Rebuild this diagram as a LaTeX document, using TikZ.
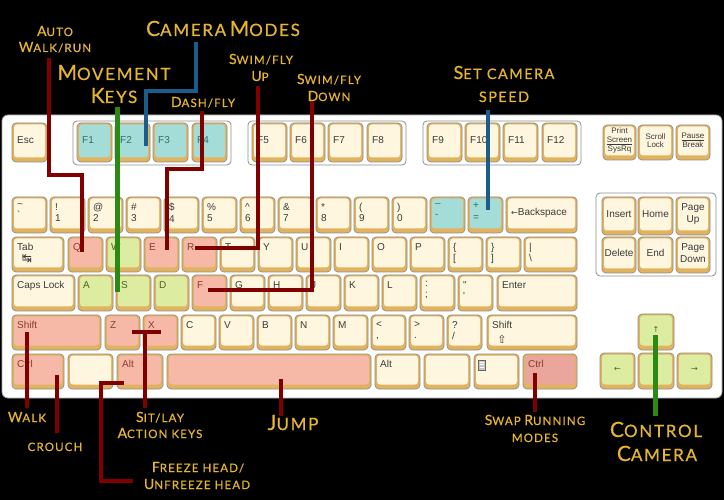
\documentclass[tikz,border=0pt]{standalone}
\usepackage{fontspec}
\setmainfont{Liberation Sans}
\newfontfamily\labfont[LetterSpace=10,FakeBold=0.6]{Lato}
\newfontfamily\symfont{DejaVu Sans}
\definecolor{keycream}{HTML}{FEF6DE}
\definecolor{keyteal}{HTML}{A4DCD8}
\definecolor{keypink}{HTML}{F7B9A7}
\definecolor{keygreen}{HTML}{DCEDA2}
\definecolor{keyctrl}{HTML}{EBA69C}
\definecolor{rim}{HTML}{E2B35E}
\definecolor{keyedge}{HTML}{8E8E8E}
\definecolor{lred}{HTML}{800000}
\definecolor{lgreen}{HTML}{2A8A14}
\definecolor{lblue}{HTML}{1C5C8A}
\definecolor{gold}{HTML}{E6B530}
\definecolor{txtc}{HTML}{3A3A3A}
\definecolor{pinktxt}{HTML}{8C3B30}
\definecolor{tealtxt}{HTML}{2F6E70}
\definecolor{greentxt}{HTML}{4F5F25}
\newcommand\Bg[1]{{\fontsize{\bsz}{\bsz}\selectfont #1}}
\newcommand\Sm[1]{{\fontsize{\ssz}{\ssz}\selectfont #1}}
% key with label at top-left
\newcommand\kk[6][]{%
  \path[keybody] (#4,\ya) rectangle (#5,\yb);
  \path[keyface,fill=#2] ({#4+2},{\ya+1.5}) rectangle ({#5-2},{\yb-4.5});
  \node[keytxt,anchor=north west,#1] (#3) at ({#4+5},{\ya+6}) {#6};
}
% key with label at left, vertically centred
\newcommand\kw[6][]{%
  \path[keybody] (#4,\ya) rectangle (#5,\yb);
  \path[keyface,fill=#2] ({#4+2},{\ya+1.5}) rectangle ({#5-2},{\yb-4.5});
  \node[keytxt,anchor=west,#1] (#3) at ({#4+5},{(\ya+\yb)/2-2}) {#6};
}
% key with centred label
\newcommand\kc[6][]{%
  \path[keybody] (#4,\ya) rectangle (#5,\yb);
  \path[keyface,fill=#2] ({#4+2},{\ya+1.5}) rectangle ({#5-2},{\yb-4.5});
  \node[keytxt,anchor=center,align=center,#1] (#3) at ({(#4+#5)/2},{(\ya+\yb)/2-2}) {#6};
}
\begin{document}
\begin{tikzpicture}[x=1pt,y=-1pt,
  keybody/.style={fill=rim,draw=keyedge,line width=0.7pt,rounded corners=4pt},
  keyface/.style={rounded corners=3pt},
  keytxt/.style={inner sep=0pt,text=txtc,align=left,font=\fontsize{10}{11.5}\selectfont},
  smallkey/.style={font=\fontsize{8}{8.6}\selectfont},
  groupbox/.style={draw=keyedge,fill=white,line width=0.8pt,rounded corners=4pt},
  redline/.style={draw=lred,line width=4pt},
  greenline/.style={draw=lgreen,line width=5pt},
  blueline/.style={draw=lblue,line width=4pt},
  lab/.style={text=gold,inner sep=0pt,anchor=base,font=\labfont},
  smalllab/.style={lab,execute at begin node={\def\bsz{14}\def\ssz{11.5}}},
  midlab/.style={lab,execute at begin node={\def\bsz{18}\def\ssz{14.5}}},
  biglab/.style={lab,execute at begin node={\def\bsz{21}\def\ssz{17}}}]
\useasboundingbox (0,0) rectangle (724,500);
\fill[black] (0,0) rectangle (724,500);
% keyboard body
\draw[fill=white,draw=gray!70,line width=0.8pt,rounded corners=6pt] (2,115) rectangle (722,398);
\draw[groupbox] (73,121) rectangle (231,165);
\draw[groupbox] (248,121) rectangle (406,165);
\draw[groupbox] (423,121) rectangle (581,165);
\draw[groupbox] (596,193) rectangle (716,276);
% function row
\def\ya{123}\def\yb{162}
\kw{keycream}{esc}{12}{47}{Esc}
\kw[text=tealtxt]{keyteal}{f1}{77}{112}{F1}
\kw[text=tealtxt]{keyteal}{f2}{115}{150}{F2}
\kw[text=tealtxt]{keyteal}{f3}{153}{188}{F3}
\kw[text=tealtxt]{keyteal}{f4}{192}{227}{F4}
\kw{keycream}{f5}{252}{287}{F5}
\kw{keycream}{f6}{290}{325}{F6}
\kw{keycream}{f7}{328}{363}{F7}
\kw{keycream}{f8}{367}{402}{F8}
\kw{keycream}{f9}{427}{462}{F9}
\kw{keycream}{f10}{465}{500}{F10}
\kw{keycream}{f11}{503}{538}{F11}
\kw{keycream}{f12}{542}{577}{F12}
\def\ya{125}\def\yb{160}
\kc[smallkey]{keycream}{prt}{603}{636}{Print\\\underline{Screen}\\SysRq}
\kc[smallkey]{keycream}{scr}{638}{673}{Scroll\\Lock}
\kc[smallkey]{keycream}{pau}{676}{710}{\underline{Pause}\\Break}
% number row
\def\ya{197}\def\yb{233}
\kk{keycream}{tilde}{12}{47}{\textasciitilde\\\textasciigrave}
\kk{keycream}{n1}{50}{85}{!\\1}
\kk{keycream}{n2}{88}{123}{@\\2}
\kk{keycream}{n3}{126}{161}{\#\\3}
\kk{keycream}{n4}{164}{199}{\$\\4}
\kk{keycream}{n5}{202}{237}{\%\\5}
\kk{keycream}{n6}{240}{275}{\textasciicircum\\6}
\kk{keycream}{n7}{278}{313}{\&\\7}
\kk{keycream}{n8}{316}{351}{*\\8}
\kk{keycream}{n9}{354}{389}{(\\9}
\kk{keycream}{n0}{392}{427}{)\\0}
\kk[text=tealtxt]{keyteal}{minus}{430}{465}{–\\-}
\kk[text=tealtxt]{keyteal}{plus}{468}{503}{+\\=}
\kw{keycream}{bksp}{506}{577}{{\symfont\fontsize{8}{8}\selectfont ←}Backspace}
% tab row
\def\ya{237}\def\yb{272}
\kk{keycream}{tab}{12}{64}{Tab}
\node[keytxt] (tabsym) at (27,259) {{\symfont\fontsize{12}{12}\selectfont ↹}};
\kk[text=pinktxt]{keypink}{q}{68}{103}{Q}
\kk[text=greentxt]{keygreen}{w}{106}{141}{W}
\kk[text=pinktxt]{keypink}{e}{144}{179}{E}
\kk[text=pinktxt]{keypink}{r}{182}{217}{R}
\kk{keycream}{t}{220}{255}{T}
\kk{keycream}{y}{258}{293}{Y}
\kk{keycream}{u}{296}{331}{U}
\kk{keycream}{i}{334}{369}{I}
\kk{keycream}{o}{372}{407}{O}
\kk{keycream}{p}{410}{445}{P}
\kk{keycream}{lbr}{448}{483}{\{\\{}[}
\kk{keycream}{rbr}{486}{521}{\}\\{}]}
\kk{keycream}{bsl}{524}{577}{|\\\textbackslash}
% caps row
\def\ya{275}\def\yb{311}
\kk{keycream}{caps}{12}{75}{Caps Lock}
\kk[text=greentxt]{keygreen}{a}{78}{113}{A}
\kk[text=greentxt]{keygreen}{s}{116}{151}{S}
\kk[text=greentxt]{keygreen}{d}{154}{189}{D}
\kk[text=pinktxt]{keypink}{f}{192}{227}{F}
\kk{keycream}{g}{230}{265}{G}
\kk{keycream}{h}{268}{303}{H}
\kk{keycream}{j}{306}{341}{J}
\kk{keycream}{k}{344}{379}{K}
\kk{keycream}{l}{382}{417}{L}
\kk{keycream}{semi}{420}{455}{:\\;}
\kk{keycream}{quote}{458}{493}{\textquotedbl\\\textquotesingle}
\kk{keycream}{enter}{497}{577}{Enter}
% shift row
\def\ya{315}\def\yb{350}
\kk[text=pinktxt]{keypink}{lshift}{12}{101}{Shift}
\node[keytxt,text=pinktxt] (lshiftsym) at (27,339) {{\symfont\fontsize{8}{8}\selectfont ⇧}};
\kk[text=pinktxt]{keypink}{z}{105}{140}{Z}
\kk[text=pinktxt]{keypink}{x}{143}{178}{X}
\kk{keycream}{c}{181}{216}{C}
\kk{keycream}{v}{219}{254}{V}
\kk{keycream}{b}{257}{292}{B}
\kk{keycream}{n}{295}{330}{N}
\kk{keycream}{m}{333}{368}{M}
\kk{keycream}{comma}{371}{406}{<\\,}
\kk{keycream}{period}{409}{444}{>\\.}
\kk{keycream}{slash}{447}{482}{?\\/}
\kk{keycream}{rshift}{487}{577}{Shift}
\node[keytxt] (rshiftsym) at (502,339) {{\symfont\fontsize{11}{11}\selectfont ⇧}};
% bottom row
\def\ya{354}\def\yb{389}
\kk[text=pinktxt]{keypink}{lctrl}{12}{64}{Ctrl}
\kk{keycream}{lwin}{68}{113}{}
\kk[text=pinktxt]{keypink}{lalt}{117}{163}{Alt}
\kk{keypink}{space}{167}{371}{}
\kk{keycream}{ralt}{375}{420}{Alt}
\kk{keycream}{rwin}{424}{470}{}
\kk{keycream}{menu}{474}{519}{}
\node[draw=gray!80!black,fill=gray!45,line width=0.6pt,minimum width=7pt,minimum height=10pt,inner sep=0pt] (menuicon) at (482,365) {};
\draw[white,line width=0.6pt] (menuicon.north west) ++(1.5,2.5) -- ++(4,0) ++(-4,2.5) -- ++(4,0) ++(-4,2.5) -- ++(4,0);
\kk[text=pinktxt]{keyctrl}{rctrl}{523}{577}{Ctrl}
% navigation cluster
\def\ya{197}\def\yb{235}
\kc{keycream}{ins}{602}{636}{Insert}
\kc{keycream}{home}{638}{673}{Home}
\kc{keycream}{pgup}{676}{710}{Page\\Up}
\def\ya{237}\def\yb{273}
\kc{keycream}{del}{602}{636}{Delete}
\kc{keycream}{endk}{638}{673}{End}
\kc{keycream}{pgdn}{676}{710}{Page\\Down}
% arrow keys
\def\ya{314}\def\yb{350}
\kc[text=greentxt]{keygreen}{up}{638}{674}{{\symfont\fontsize{8}{8}\selectfont ↑}}
\def\ya{353}\def\yb{389}
\kc[text=greentxt]{keygreen}{left}{600}{635}{{\symfont\fontsize{8}{8}\selectfont ←}}
\kc[text=greentxt]{keygreen}{down}{638}{674}{}
\kc[text=greentxt]{keygreen}{right}{677}{712}{{\symfont\fontsize{8}{8}\selectfont →}}
% connector points
\coordinate (autoA) at (49,58);   \coordinate (autoB) at (82,175);  \coordinate (autoC) at (82,252);
\coordinate (moveA) at (117,107); \coordinate (moveB) at (117,292);
\coordinate (camA) at (196,42);   \coordinate (camB) at (146,91);   \coordinate (camC) at (146,146);
\coordinate (dashA) at (202,111); \coordinate (dashB) at (167,169); \coordinate (dashC) at (167,250);
\coordinate (upA) at (258,86);    \coordinate (upB) at (195,248);
\coordinate (dnA) at (312,101);   \coordinate (dnB) at (208,290);
\coordinate (walkA) at (27,332);  \coordinate (walkB) at (27,408);
\coordinate (crA) at (57,375);    \coordinate (crB) at (57,433);
\coordinate (frA) at (124,383);   \coordinate (frB) at (101,481);   \coordinate (frC) at (133,481);
\coordinate (sitA) at (132,332);  \coordinate (sitB) at (161,332);  \coordinate (sitC) at (145,332); \coordinate (sitD) at (145,408);
\coordinate (jumpA) at (281,379); \coordinate (jumpB) at (281,416);
\coordinate (swapA) at (535,373); \coordinate (swapB) at (535,412);
\coordinate (ctlA) at (655,335);  \coordinate (ctlB) at (655,416);
\coordinate (spdA) at (488,110);  \coordinate (spdB) at (488,210);
% connectors
\draw[redline] (autoA) |- (autoB) -- (autoC);
\draw[greenline] (moveA) -- (moveB);
\draw[blueline] (camA) |- (camB) -- (camC);
\draw[redline] (dashA) |- (dashB) -- (dashC);
\draw[redline] (upA) |- (upB);
\draw[redline] (dnA) |- (dnB);
\draw[redline] (walkA) -- (walkB);
\draw[redline] (crA) -- (crB);
\draw[redline] (frA) -| (frB) -- (frC);
\draw[redline] (sitA) -- (sitB);
\draw[redline] (sitC) -- (sitD);
\draw[redline] (jumpA) -- (jumpB);
\draw[redline] (swapA) -- (swapB);
\draw[greenline] (ctlA) -- (ctlB);
\draw[blueline] (spdA) -- (spdB);
% labels
\node[smalllab] (auto1) at (55,36) {\Bg{A}\Sm{UTO}};
\node[smalllab] (auto2) at (55,52) {\Bg{W}\Sm{ALK/RUN}};
\node[biglab] (cam) at (223,36) {\Bg{C}\Sm{AMERA} \Bg{M}\Sm{ODES}};
\node[biglab] (move1) at (114,80) {\Bg{M}\Sm{OVEMENT}};
\node[biglab] (move2) at (114,103) {\Bg{K}\Sm{EYS}};
\node[smalllab] (dash) at (203,107) {\Bg{D}\Sm{ASH/FLY}};
\node[smalllab] (up1) at (261,64) {\Bg{S}\Sm{WIM/FLY}};
\node[smalllab] (up2) at (260,81) {\Bg{U}\Sm{P}};
\node[smalllab] (dn1) at (329,84) {\Bg{S}\Sm{WIM/FLY}};
\node[smalllab] (dn2) at (329,101) {\Bg{D}\Sm{OWN}};
\node[midlab] (spd1) at (504,79) {\Bg{S}\Sm{ET CAMERA}};
\node[midlab] (spd2) at (504,102) {\Sm{SPEED}};
\node[smalllab] (walk) at (27,422) {\Bg{W}\Sm{ALK}};
\node[smalllab] (crouch) at (55,451) {\Sm{CROUCH}};
\node[smalllab] (sit1) at (160,422) {\Bg{S}\Sm{IT/LAY}};
\node[smalllab] (sit2) at (160,438) {\Bg{A}\Sm{CTION KEYS}};
\node[biglab] (jump) at (293,430) {\Bg{J}\Sm{UMP}};
\node[smalllab] (fr1) at (198,472) {\Bg{F}\Sm{REEZE HEAD/}};
\node[smalllab] (fr2) at (197,489) {\Bg{U}\Sm{NFREEZE HEAD}};
\node[smalllab] (swap1) at (535,425) {\Bg{S}\Sm{WAP} \Bg{R}\Sm{UNNING}};
\node[smalllab] (swap2) at (535,442) {\Sm{MODES}};
\node[biglab] (ctl1) at (656,437) {\Bg{C}\Sm{ONTROL}};
\node[biglab] (ctl2) at (657,461) {\Bg{C}\Sm{AMERA}};
\end{tikzpicture}
\end{document}
